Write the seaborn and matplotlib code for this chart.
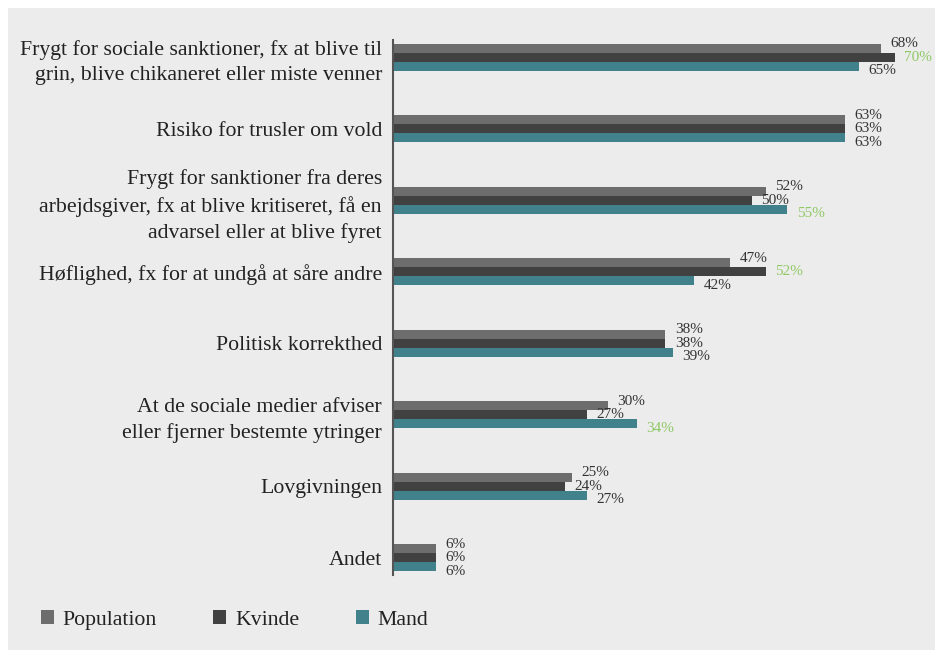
import matplotlib.pyplot as plt
import pandas as pd
import seaborn as sns
from matplotlib.patches import Patch, Rectangle

# Reasons for holding back opinions, share (%)
categories = [
    "Frygt for sociale sanktioner, fx at blive til\ngrin, blive chikaneret eller miste venner",
    "Risiko for trusler om vold",
    "Frygt for sanktioner fra deres\narbejdsgiver, fx at blive kritiseret, få en\nadvarsel eller at blive fyret",
    "Høflighed, fx for at undgå at såre andre",
    "Politisk korrekthed",
    "At de sociale medier afviser\neller fjerner bestemte ytringer",
    "Lovgivningen",
    "Andet",
]
population = [68, 63, 52, 47, 38, 30, 25, 6]
kvinde = [70, 63, 50, 52, 38, 27, 24, 6]
mand = [65, 63, 55, 42, 39, 34, 27, 6]
series = ["Population", "Kvinde", "Mand"]
# values marked in green in the original (significant difference)
significant = [(0, "Kvinde"), (2, "Mand"), (3, "Kvinde"), (5, "Mand")]

colors = {"Population": "#6d6d6d", "Kvinde": "#414141", "Mand": "#41818c"}
bg = "#ececec"
green = "#8fc864"

df = pd.DataFrame({"label": categories, "Population": population,
                   "Kvinde": kvinde, "Mand": mand})
df = df.melt(id_vars="label", var_name="serie", value_name="value")

sns.set_style("white")
plt.rcParams["font.family"] = ["Liberation Serif", "DejaVu Serif"]

fig = plt.figure(figsize=(9.35, 6.5), dpi=100)
fig.patches.append(Rectangle((8 / 935, 0), 1, 1 - 8 / 650, transform=fig.transFigure,
                             facecolor=bg, edgecolor="none", zorder=-1))

ax = fig.add_axes([393 / 935, 1 - 575 / 650, 527 / 935, 535 / 650])
ax.set_facecolor(bg)
sns.barplot(data=df, y="label", x="value", hue="serie", hue_order=series,
            palette=colors, orient="h", width=0.38, saturation=1,
            linewidth=0, legend=False, ax=ax)

for cont, name in zip(ax.containers, series):
    for j, bar in enumerate(cont.patches):
        cy = bar.get_y() + bar.get_height() / 2
        ly = j + 1.5 * (cy - j)
        col = green if (j, name) in significant else "#333333"
        ax.text(bar.get_width() + 1.3, ly, f"{bar.get_width():.0f}%",
                ha="left", va="center", fontsize=11, color=col)

ax.set_xlim(0, 73.5)
ax.set_ylim(7.24, -0.24)
ax.set_xticks([])
ax.set_xlabel("")
ax.set_ylabel("")
for s in ["top", "right", "bottom"]:
    ax.spines[s].set_visible(False)
ax.spines["left"].set_color("#555555")
ax.spines["left"].set_linewidth(1.5)
ax.tick_params(axis="y", length=0, pad=8)
for t in ax.get_yticklabels():
    t.set_fontsize(15.7)
    t.set_linespacing(1.42)
    t.set_color("#222222")

handles = [Patch(facecolor=colors[s], edgecolor="none") for s in series]
fig.legend(handles, series, loc="center left", bbox_to_anchor=(21 / 935, 1 - 620 / 650),
           ncol=3, frameon=False, fontsize=15.7, handlelength=0.6, handleheight=0.6,
           handletextpad=0.4, columnspacing=2.6, labelcolor="#222222")

fig.savefig("out.png", dpi=100)
